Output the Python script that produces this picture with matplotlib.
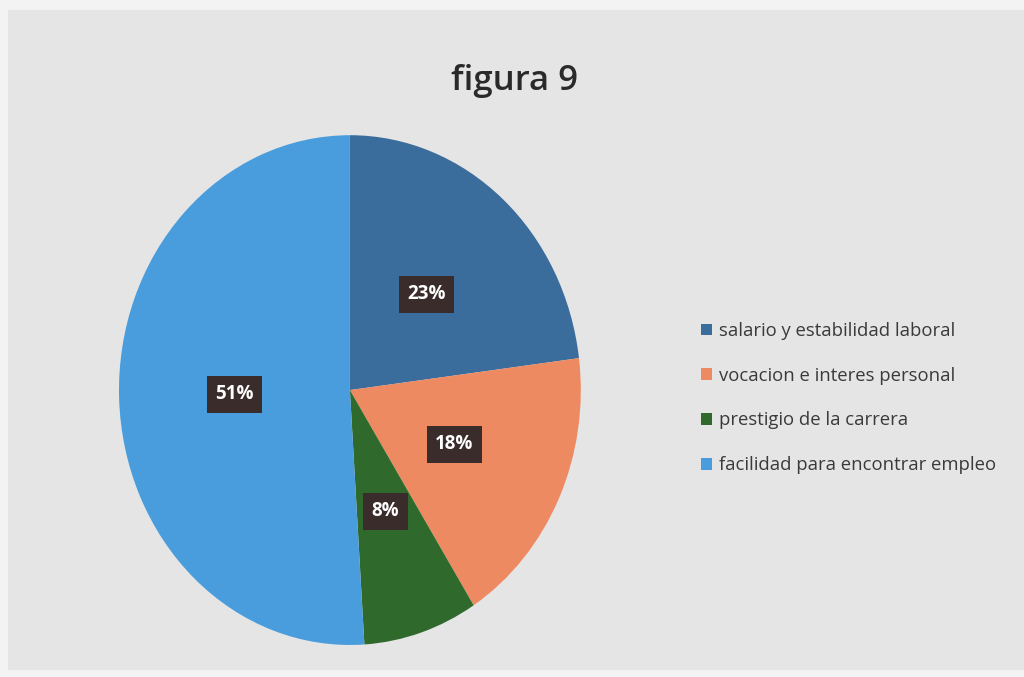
import matplotlib.pyplot as plt
from matplotlib.patches import Rectangle

categories = [
    "salario y estabilidad laboral",
    "vocacion e interes personal",
    "prestigio de la carrera",
    "facilidad para encontrar empleo",
]
shares = [23, 18, 8, 51]
colors = ["#3a6c9c", "#ee8a62", "#2f6a2c", "#4a9ddc"]

fig = plt.figure(figsize=(10.24, 6.77), dpi=100, facecolor="#f3f3f3")
fig.patches.append(Rectangle((0.008, 0.01), 0.992, 0.975, transform=fig.transFigure,
                             facecolor="#e5e5e5", edgecolor="none", zorder=-5))

ax = fig.add_axes([0.1162, 0.0473, 0.451, 0.753])
ax.set_facecolor("none")
wedges, texts, autotexts = ax.pie(
    shares, colors=colors, startangle=90, counterclock=False,
    autopct="%d%%", pctdistance=0.5,
    textprops=dict(color="white", fontsize=13.5, fontweight="bold", family="Open Sans"),
)
for t in autotexts:
    t.set_bbox(dict(boxstyle="square,pad=0.45", facecolor="#3b2c2c", edgecolor="none"))
ax.set_aspect("auto")
ax.set_xlim(-1, 1)
ax.set_ylim(-1, 1)

fig.text(0.502, 0.88, "figura 9", ha="center", va="center", fontsize=25,
         family="Open Sans", fontweight="semibold", color="#2a2a2a")

leg = fig.legend(wedges, categories, loc="center left", bbox_to_anchor=(0.668, 0.412),
                 frameon=False, handlelength=0.6, handleheight=0.6,
                 handletextpad=0.4, labelspacing=1.45, prop=dict(family="Open Sans", size=13.3))
for t in leg.get_texts():
    t.set_color("#3a3a3a")

fig.savefig("out.png", dpi=100, facecolor=fig.get_facecolor())
